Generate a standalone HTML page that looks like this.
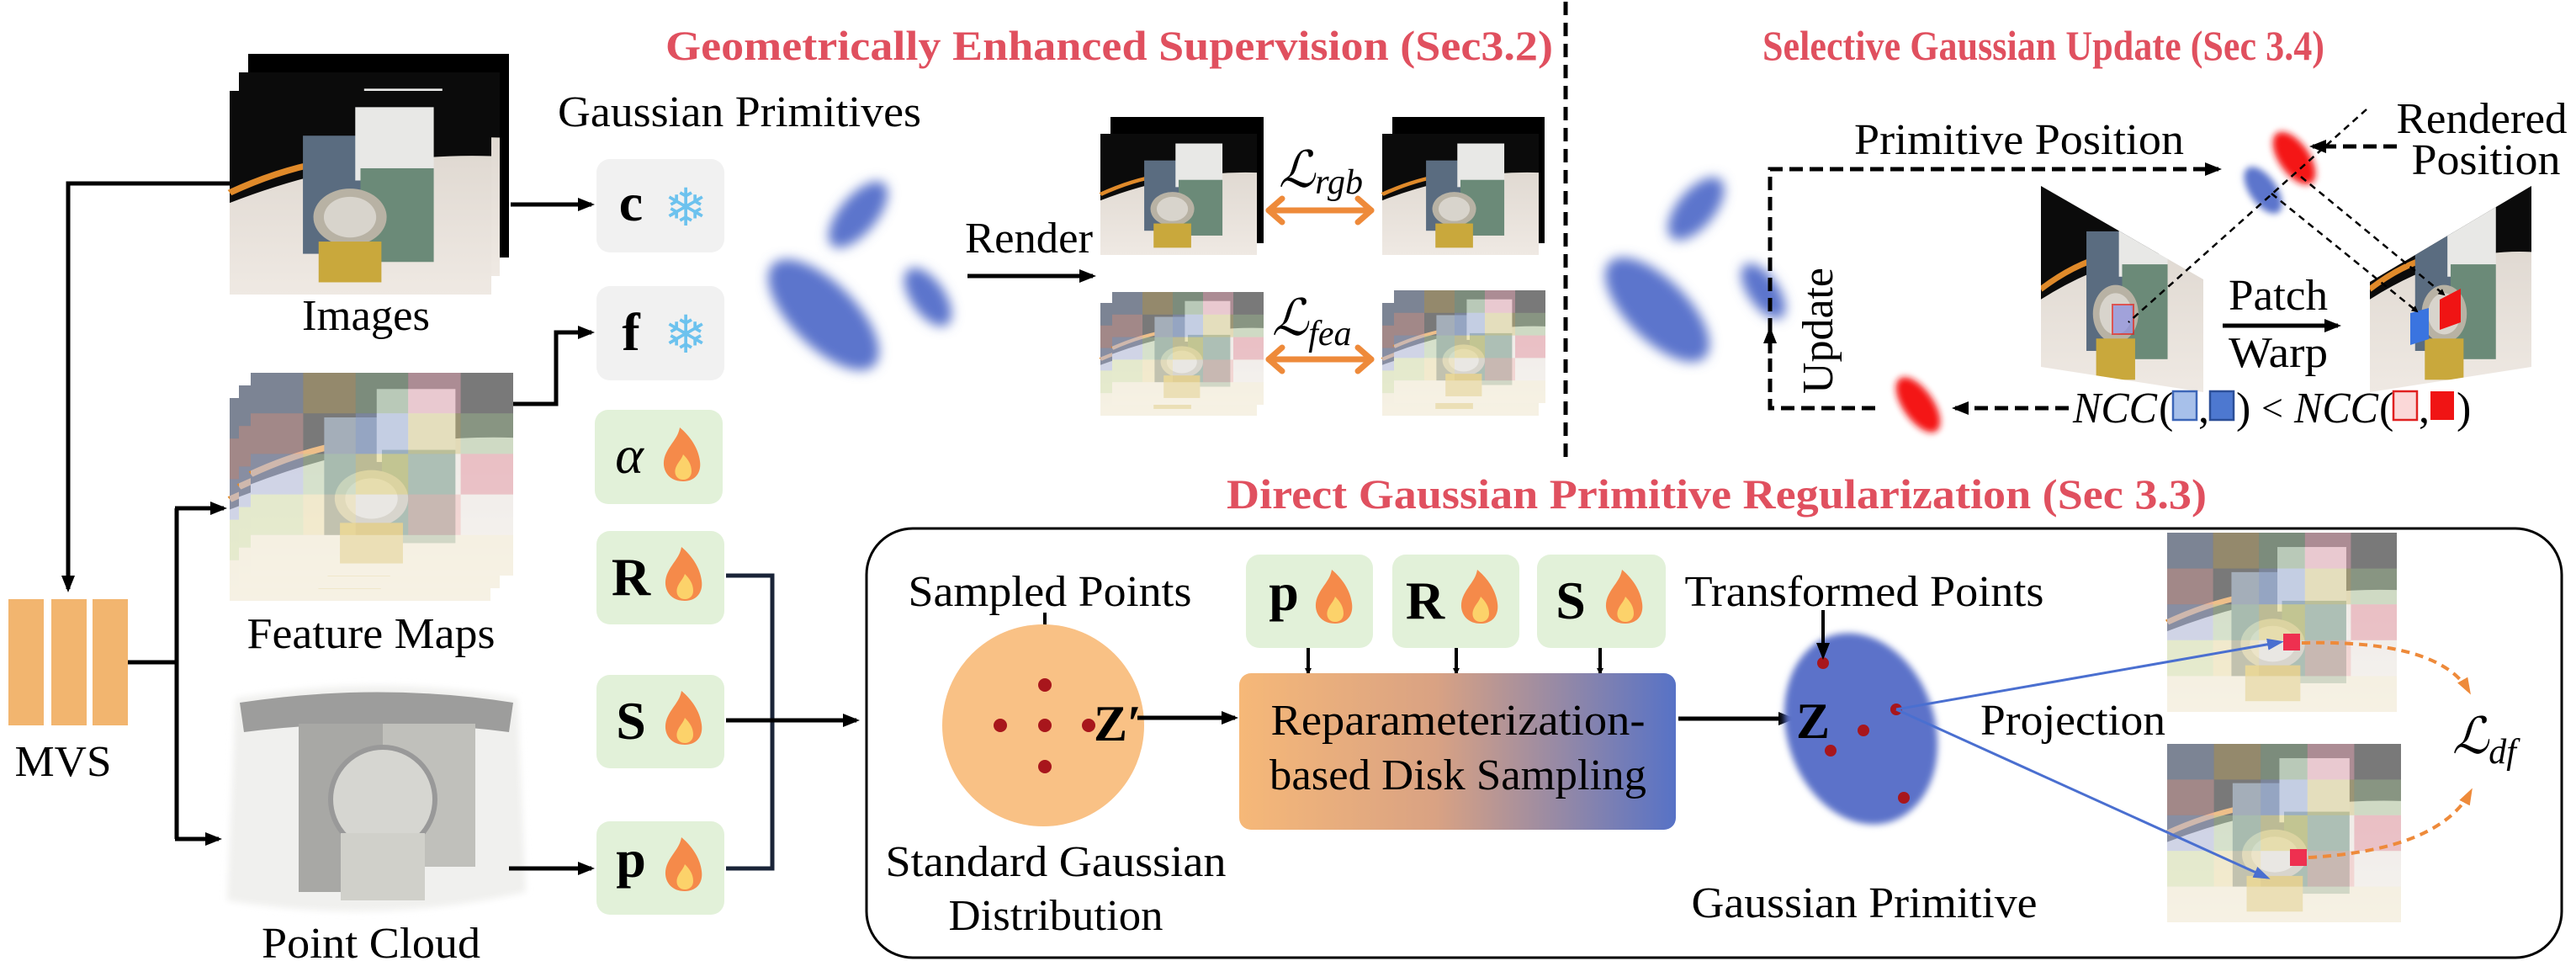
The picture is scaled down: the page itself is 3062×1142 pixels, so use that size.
<!DOCTYPE html>
<html><head><meta charset="utf-8">
<style>
html,body{margin:0;padding:0;background:#fff;}
svg{display:block;}
svg text{font-family:"Liberation Serif","DejaVu Serif","Noto Serif CJK SC",serif;}
.t{fill:#000;}
.r{fill:#e0505f;font-weight:bold;}
</style></head>
<body>
<svg width="3062" height="1142" viewBox="0 0 3062 1142" xmlns="http://www.w3.org/2000/svg">
<defs>
 <marker id="ah" markerWidth="8" markerHeight="8" refX="6" refY="4" orient="auto" markerUnits="userSpaceOnUse" viewBox="0 0 8 8"><path d="M0,0 L8,4 L0,8 z" fill="#000"/></marker>
 <marker id="ahs" markerWidth="20" markerHeight="20" refX="16" refY="10" orient="auto" markerUnits="userSpaceOnUse" viewBox="0 0 20 20"><path d="M0,2 L20,10 L0,18 z" fill="#000"/></marker>
 <marker id="ahblue" markerWidth="20" markerHeight="20" refX="16" refY="10" orient="auto" markerUnits="userSpaceOnUse" viewBox="0 0 20 20"><path d="M0,3 L20,10 L0,17 z" fill="#4a6fd0"/></marker>
 <marker id="ahor" markerWidth="20" markerHeight="20" refX="16" refY="10" orient="auto" markerUnits="userSpaceOnUse" viewBox="0 0 20 20"><path d="M0,3 L20,10 L0,17 z" fill="#ee8a3a"/></marker>
 <filter id="blur" x="-50%" y="-50%" width="200%" height="200%"><feGaussianBlur stdDeviation="7"/></filter>
 <filter id="blur2" x="-50%" y="-50%" width="200%" height="200%"><feGaussianBlur stdDeviation="4"/></filter>
 <linearGradient id="rep" x1="0" x2="1" y1="0" y2="0"><stop offset="0" stop-color="#f6b878"/><stop offset="0.45" stop-color="#d9a283"/><stop offset="1" stop-color="#5772c6"/></linearGradient>
 <linearGradient id="table" x1="0" x2="0" y1="0" y2="1"><stop offset="0" stop-color="#d9d2ca"/><stop offset="1" stop-color="#efe9e3"/></linearGradient>
 <g id="scene">
  <rect x="0" y="0" width="100" height="100" fill="url(#table)"/>
  <path d="M0,0 H100 V32 Q50,30 0,55 z" fill="#0b0b0b"/>
  <path d="M0,50 Q20,38 40,34" stroke="#e08a2a" stroke-width="3" fill="none"/>
  <rect x="28" y="22" width="24" height="58" fill="#5a6c80"/>
  <rect x="48" y="8" width="30" height="36" fill="#e8e8e6"/>
  <rect x="50" y="38" width="28" height="46" fill="#6b8a78"/>
  <ellipse cx="46" cy="62" rx="14" ry="14" fill="#b8b2a4"/>
  <ellipse cx="46" cy="62" rx="10" ry="10" fill="#d8d4cc"/>
  <rect x="34" y="74" width="24" height="20" fill="#c9a83c"/>
 </g>
 <g id="fscene">
  <use href="#scene"/>
  <rect x="0" y="0" width="100" height="100" fill="#fff" opacity="0.45"/>
  <rect x="0" y="0" width="20" height="20" fill="#8090b0" opacity="0.5"/>
  <rect x="20" y="0" width="20" height="20" fill="#b09a60" opacity="0.5"/>
  <rect x="40" y="0" width="20" height="20" fill="#80a080" opacity="0.5"/>
  <rect x="60" y="0" width="20" height="20" fill="#e0a0b0" opacity="0.5"/>
  <rect x="0" y="20" width="20" height="20" fill="#e0a0a0" opacity="0.4"/>
  <rect x="40" y="20" width="20" height="20" fill="#8098d0" opacity="0.4"/>
  <rect x="60" y="20" width="20" height="20" fill="#d0c070" opacity="0.4"/>
  <rect x="80" y="20" width="20" height="20" fill="#a0c090" opacity="0.4"/>
  <rect x="0" y="40" width="20" height="20" fill="#a0b0e0" opacity="0.4"/>
  <rect x="20" y="40" width="20" height="20" fill="#b0d0a0" opacity="0.4"/>
  <rect x="40" y="40" width="20" height="20" fill="#e0d060" opacity="0.4"/>
  <rect x="80" y="40" width="20" height="20" fill="#e08090" opacity="0.4"/>
  <rect x="0" y="60" width="20" height="20" fill="#d0e0a0" opacity="0.4"/>
  <rect x="20" y="60" width="20" height="20" fill="#f0e0a0" opacity="0.4"/>
  <rect x="60" y="60" width="20" height="20" fill="#f0b0b0" opacity="0.4"/>
  <rect x="0" y="80" width="100" height="20" fill="#f5f0d8" opacity="0.5"/>
 </g>
 <g id="flame">
  <path d="M0,24 c-20,0 -28,-18 -20,-34 c6,-12 14,-18 16,-30 c12,10 22,24 24,40 c2,14 -6,24 -20,24z" fill="#f58a4a"/>
  <path d="M0,22 c-8,0 -12,-8 -8,-16 c3,-6 6,-8 8,-14 c6,6 10,12 10,20 c0,6 -4,10 -10,10z" fill="#fcd26a"/>
 </g>
</defs>

<!-- Section titles -->
<text class="r" x="791" y="71" font-size="50" fill="#e0505f" font-weight="bold" textLength="1055" lengthAdjust="spacingAndGlyphs">Geometrically Enhanced Supervision (Sec3.2)</text>
<text class="r" x="2095" y="71" font-size="50" fill="#e0505f" font-weight="bold" textLength="668" lengthAdjust="spacingAndGlyphs">Selective Gaussian Update (Sec 3.4)</text>
<text class="r" x="1458" y="604" font-size="50" fill="#e0505f" font-weight="bold" textLength="1165" lengthAdjust="spacingAndGlyphs">Direct Gaussian Primitive Regularization (Sec 3.3)</text>
<line x1="1861" y1="2" x2="1861" y2="545" stroke="#000" stroke-width="5" stroke-dasharray="16,9"/>

<!-- Inputs -->
<g>
 <rect x="295" y="64" width="310" height="242" fill="#000"/>
 <use href="#scene" transform="translate(284,86) scale(3.1,2.42)"/>
 <use href="#scene" transform="translate(273,108) scale(3.11,2.42)"/>
</g>
<text class="t" x="435" y="392" font-size="52" text-anchor="middle" textLength="152" lengthAdjust="spacingAndGlyphs">Images</text>

<g>
 <use href="#fscene" transform="translate(273,473) scale(3.1,2.41)"/>
 <use href="#fscene" transform="translate(284,458) scale(3.1,2.41)"/>
 <use href="#fscene" transform="translate(298,443) scale(3.12,2.41)"/>
</g>
<text class="t" x="441" y="770" font-size="52" text-anchor="middle" textLength="295" lengthAdjust="spacingAndGlyphs">Feature Maps</text>

<g>
 <path d="M280,830 Q450,800 615,830 L625,1060 Q450,1100 270,1070 z" fill="#f0f0ee" filter="url(#blur2)"/>
 <path d="M285,835 Q450,810 610,835 L605,870 Q450,850 290,870 z" fill="#666" opacity="0.6"/>
 <rect x="355" y="860" width="100" height="200" fill="#a8a8a5"/>
 <rect x="455" y="860" width="110" height="170" fill="#c0c0bb"/>
 <ellipse cx="455" cy="950" rx="62" ry="62" fill="#d6d6d1" stroke="#999" stroke-width="6"/>
 <rect x="405" y="990" width="100" height="80" fill="#d0d0ca"/>
</g>
<text class="t" x="441" y="1138" font-size="52" text-anchor="middle" textLength="260" lengthAdjust="spacingAndGlyphs">Point Cloud</text>

<g>
 <rect x="10" y="712" width="42" height="150" fill="#f2b56f"/>
 <rect x="61" y="712" width="42" height="150" fill="#f2b56f"/>
 <rect x="110" y="712" width="42" height="150" fill="#f2b56f"/>
</g>
<text class="t" x="75" y="922" font-size="52" text-anchor="middle" textLength="115" lengthAdjust="spacingAndGlyphs">MVS</text>

<g fill="none" stroke="#000" stroke-width="5">
 <polyline points="273,218 81,218 81,700" marker-end="url(#ahs)"/>
 <polyline points="152,787 210,787"/>
 <polyline points="210,604 210,997"/>
 <line x1="208" y1="604" x2="266" y2="604" marker-end="url(#ahs)"/>
 <line x1="208" y1="997" x2="260" y2="997" marker-end="url(#ahs)"/>
 <line x1="607" y1="243" x2="703" y2="243" marker-end="url(#ahs)"/>
 <polyline points="610,480 661,480 661,395 703,395" marker-end="url(#ahs)"/>
 <line x1="605" y1="1032" x2="703" y2="1032" marker-end="url(#ahs)"/>
</g>

<!-- Gaussian primitives params -->
<text class="t" x="663" y="150" font-size="52" textLength="432" lengthAdjust="spacingAndGlyphs">Gaussian Primitives</text>
<g><rect x="709" y="189" width="152" height="111" rx="16" fill="#f1f1f1"/><text class="t" x="750" y="262" font-size="64" font-weight="bold" text-anchor="middle">c</text><text x="815" y="268" font-size="62" fill="#6cc2ee" text-anchor="middle" style="font-family:'DejaVu Sans',sans-serif">❄</text></g>
<g><rect x="709" y="340" width="152" height="112" rx="16" fill="#f1f1f1"/><text class="t" x="750" y="416" font-size="64" font-weight="bold" text-anchor="middle">f</text><text x="815" y="419" font-size="62" fill="#6cc2ee" text-anchor="middle" style="font-family:'DejaVu Sans',sans-serif">❄</text></g>
<g><rect x="707" y="487" width="152" height="112" rx="16" fill="#e2f1d9"/><text class="t" x="748" y="562" font-size="64" font-style="italic" text-anchor="middle">α</text><use href="#flame" transform="translate(812,548)"/></g>
<g><rect x="709" y="631" width="152" height="111" rx="16" fill="#e2f1d9"/><text class="t" x="750" y="707" font-size="64" font-weight="bold" text-anchor="middle">R</text><use href="#flame" transform="translate(814,690)"/></g>
<g><rect x="709" y="802" width="152" height="111" rx="16" fill="#e2f1d9"/><text class="t" x="750" y="878" font-size="64" font-weight="bold" text-anchor="middle">S</text><use href="#flame" transform="translate(814,861)"/></g>
<g><rect x="709" y="976" width="152" height="111" rx="16" fill="#e2f1d9"/><text class="t" x="750" y="1042" font-size="64" font-weight="bold" text-anchor="middle">p</text><use href="#flame" transform="translate(814,1035)"/></g>
<g fill="none" stroke="#1a2438" stroke-width="5">
 <polyline points="863,684 918,684 918,1032 863,1032"/>
 <line x1="863" y1="856" x2="1018" y2="856" stroke="#000" marker-end="url(#ahs)"/>
</g>

<!-- Supervision -->
<g fill="#5b74cc" filter="url(#blur)">
 <ellipse cx="1020" cy="255" rx="22" ry="48" transform="rotate(40 1020 255)"/>
 <ellipse cx="979" cy="374" rx="38" ry="85" transform="rotate(-45 979 374)"/>
 <ellipse cx="1103" cy="353" rx="20" ry="40" transform="rotate(-35 1103 353)"/>
</g>
<text class="t" x="1223" y="300" font-size="52" text-anchor="middle" textLength="152" lengthAdjust="spacingAndGlyphs">Render</text>
<line x1="1150" y1="328" x2="1299" y2="328" stroke="#000" stroke-width="5" marker-end="url(#ahs)"/>
<g><rect x="1320" y="139" width="182" height="150" fill="#000"/><use href="#scene" transform="translate(1308,159) scale(1.86,1.44)"/></g>
<g><rect x="1655" y="139" width="181" height="150" fill="#000"/><use href="#scene" transform="translate(1643,159) scale(1.86,1.44)"/></g>
<g><use href="#fscene" transform="translate(1308,360) scale(1.86,1.34)"/><use href="#fscene" transform="translate(1322,347) scale(1.8,1.34)"/></g>
<g><use href="#fscene" transform="translate(1643,360) scale(1.86,1.34)"/><use href="#fscene" transform="translate(1657,345) scale(1.8,1.34)"/></g>
<text x="1520" y="222" font-size="60" font-style="italic">ℒ<tspan font-size="42" dy="8">rgb</tspan></text>
<text x="1512" y="398" font-size="60" font-style="italic">ℒ<tspan font-size="42" dy="12">fea</tspan></text>
<g fill="none" stroke="#ee8a3a" stroke-width="7" stroke-linecap="round" stroke-linejoin="round">
 <line x1="1508" y1="250" x2="1630" y2="250"/>
 <polyline points="1524,236 1508,250 1524,264"/>
 <polyline points="1614,236 1630,250 1614,264"/>
</g>
<g fill="none" stroke="#ee8a3a" stroke-width="7" stroke-linecap="round" stroke-linejoin="round">
 <line x1="1508" y1="427" x2="1630" y2="427"/>
 <polyline points="1524,413 1508,427 1524,441"/>
 <polyline points="1614,413 1630,427 1614,441"/>
</g>

<!-- Selective update -->
<g fill="#5b74cc" filter="url(#blur)">
 <ellipse cx="2016" cy="248" rx="22" ry="45" transform="rotate(40 2016 248)"/>
 <ellipse cx="1970" cy="368" rx="36" ry="80" transform="rotate(-45 1970 368)"/>
 <ellipse cx="2096" cy="346" rx="18" ry="38" transform="rotate(-35 2096 346)"/>
</g>
<ellipse cx="2280" cy="481" rx="18" ry="38" transform="rotate(-35 2280 481)" fill="#f41616" filter="url(#blur2)"/>
<ellipse cx="2690" cy="226" rx="16" ry="32" transform="rotate(-35 2690 226)" fill="#5b74cc" filter="url(#blur2)"/>
<ellipse cx="2727" cy="188" rx="18" ry="36" transform="rotate(-35 2727 188)" fill="#f41616" filter="url(#blur2)"/>
<g fill="none" stroke="#000" stroke-width="5" stroke-dasharray="16,8">
 <polyline points="2229,485 2104,485 2104,201 2637,201" marker-end="url(#ahs)"/>
 <line x1="2104" y1="420" x2="2104" y2="392" stroke-dasharray="none" marker-end="url(#ahs)"/>
 <line x1="2459" y1="485" x2="2324" y2="485" marker-end="url(#ahs)"/>
 <line x1="2849" y1="174" x2="2749" y2="174" marker-end="url(#ahs)"/>
</g>
<text class="t" x="2400" y="183" font-size="52" text-anchor="middle" textLength="392" lengthAdjust="spacingAndGlyphs">Primitive Position</text>
<text class="t" x="2950" y="158" font-size="52" text-anchor="middle" textLength="203" lengthAdjust="spacingAndGlyphs">Rendered</text>
<text class="t" x="2955" y="207" font-size="52" text-anchor="middle" textLength="177" lengthAdjust="spacingAndGlyphs">Position</text>
<text class="t" x="0" y="0" font-size="52" textLength="150" lengthAdjust="spacingAndGlyphs" transform="translate(2178,468) rotate(-90)">Update</text>
<g>
 <clipPath id="cl1"><polygon points="2426,221 2619,332 2619,466 2426,436"/></clipPath>
 <g clip-path="url(#cl1)"><use href="#scene" transform="translate(2426,221) scale(1.93,2.45)"/></g>
 <rect x="2511" y="362" width="25" height="35" fill="#8a8ee0" opacity="0.7" stroke="#e02020" stroke-width="2"/>
</g>
<g>
 <clipPath id="cl2"><polygon points="2817,335 3009,221 3009,436 2817,466"/></clipPath>
 <g clip-path="url(#cl2)"><use href="#scene" transform="translate(2817,221) scale(1.92,2.45)"/></g>
 <polygon points="2865,372 2887,366 2887,403 2865,410" fill="#3a74e0"/>
 <polygon points="2900,356 2925,343 2925,383 2900,392" fill="#f01414"/>
</g>
<g fill="none" stroke="#000" stroke-width="2.5" stroke-dasharray="8,6">
 <line x1="2813" y1="130" x2="2530" y2="383"/>
 <line x1="2700" y1="230" x2="2873" y2="370" marker-end="url(#ah)"/>
 <line x1="2735" y1="210" x2="2905" y2="350" marker-end="url(#ah)"/>
</g>
<text class="t" x="2708" y="368" font-size="52" text-anchor="middle" textLength="118" lengthAdjust="spacingAndGlyphs">Patch</text>
<text class="t" x="2708" y="436" font-size="52" text-anchor="middle" textLength="118" lengthAdjust="spacingAndGlyphs">Warp</text>
<line x1="2642" y1="387" x2="2779" y2="387" stroke="#000" stroke-width="5" marker-end="url(#ahs)"/>
<g>
 <text class="t" x="2464" y="502" font-size="52" font-style="italic" textLength="100" lengthAdjust="spacingAndGlyphs">NCC</text>
 <text class="t" x="2566" y="502" font-size="52">(</text>
 <rect x="2583" y="465" width="28" height="34" fill="#a7c0ea" stroke="#3c66b8" stroke-width="2.5"/>
 <text class="t" x="2613" y="502" font-size="52">,</text>
 <rect x="2627" y="465" width="28" height="34" fill="#4d78d0" stroke="#2c4f98" stroke-width="2.5"/>
 <text class="t" x="2658" y="502" font-size="52">)</text>
 <text class="t" x="2688" y="500" font-size="46">&lt;</text>
 <text class="t" x="2727" y="502" font-size="52" font-style="italic" textLength="100" lengthAdjust="spacingAndGlyphs">NCC</text>
 <text class="t" x="2828" y="502" font-size="52">(</text>
 <rect x="2845" y="465" width="28" height="34" fill="#fbd8d8" stroke="#e02020" stroke-width="2.5"/>
 <text class="t" x="2875" y="502" font-size="52">,</text>
 <rect x="2889" y="465" width="28" height="34" fill="#f01414"/>
 <text class="t" x="2920" y="502" font-size="52">)</text>
</g>

<!-- Regularization box -->
<rect x="1030" y="628" width="2015" height="510" rx="55" fill="none" stroke="#000" stroke-width="3"/>
<text class="t" x="1248" y="720" font-size="52" text-anchor="middle" textLength="337" lengthAdjust="spacingAndGlyphs">Sampled Points</text>
<line x1="1242" y1="728" x2="1242" y2="790" stroke="#000" stroke-width="4" marker-end="url(#ahs)"/>
<circle cx="1240" cy="862" r="120" fill="#f9c185"/>
<g fill="#a8161c">
 <circle cx="1242" cy="814" r="8"/><circle cx="1189" cy="862" r="8"/><circle cx="1242" cy="862" r="8"/><circle cx="1294" cy="862" r="8"/><circle cx="1242" cy="911" r="8"/>
</g>
<text class="t" x="1300" y="880" font-size="60" font-weight="bold">Z′</text>
<line x1="1352" y1="853" x2="1468" y2="853" stroke="#000" stroke-width="5" marker-end="url(#ahs)"/>
<text class="t" x="1255" y="1041" font-size="52" text-anchor="middle" textLength="405" lengthAdjust="spacingAndGlyphs">Standard Gaussian</text>
<text class="t" x="1255" y="1105" font-size="52" text-anchor="middle" textLength="255" lengthAdjust="spacingAndGlyphs">Distribution</text>

<g><rect x="1481" y="659" width="151" height="111" rx="16" fill="#e2f1d9"/><text class="t" x="1526" y="725" font-size="64" font-weight="bold" text-anchor="middle">p</text><use href="#flame" transform="translate(1587,717)"/></g>
<g><rect x="1655" y="659" width="151" height="111" rx="16" fill="#e2f1d9"/><text class="t" x="1694" y="735" font-size="64" font-weight="bold" text-anchor="middle">R</text><use href="#flame" transform="translate(1760,717)"/></g>
<g><rect x="1827" y="659" width="153" height="111" rx="16" fill="#e2f1d9"/><text class="t" x="1867" y="735" font-size="64" font-weight="bold" text-anchor="middle">S</text><use href="#flame" transform="translate(1932,717)"/></g>
<g stroke="#000" stroke-width="4">
 <line x1="1555" y1="770" x2="1555" y2="800" marker-end="url(#ah)"/>
 <line x1="1731" y1="770" x2="1731" y2="800" marker-end="url(#ah)"/>
 <line x1="1902" y1="770" x2="1902" y2="800" marker-end="url(#ah)"/>
</g>
<rect x="1473" y="800" width="519" height="186" rx="14" fill="url(#rep)"/>
<text class="t" x="1733" y="873" font-size="52" text-anchor="middle" textLength="445" lengthAdjust="spacingAndGlyphs">Reparameterization-</text>
<text class="t" x="1733" y="938" font-size="52" text-anchor="middle" textLength="448" lengthAdjust="spacingAndGlyphs">based Disk Sampling</text>
<line x1="1995" y1="854" x2="2130" y2="854" stroke="#000" stroke-width="5" marker-end="url(#ahs)"/>

<ellipse cx="2212" cy="866" rx="88" ry="116" transform="rotate(-18 2212 866)" fill="#5b72c9" filter="url(#blur2)"/>
<text class="t" x="2135" y="877" font-size="60" font-weight="bold">Z</text>
<g fill="#a8161c">
 <circle cx="2167" cy="788" r="7"/><circle cx="2254" cy="843" r="7"/><circle cx="2215" cy="868" r="7"/><circle cx="2176" cy="892" r="7"/><circle cx="2263" cy="948" r="7"/>
</g>
<text class="t" x="2216" y="720" font-size="52" text-anchor="middle" textLength="427" lengthAdjust="spacingAndGlyphs">Transformed Points</text>
<line x1="2167" y1="725" x2="2167" y2="780" stroke="#000" stroke-width="4" marker-end="url(#ahs)"/>
<text class="t" x="2216" y="1090" font-size="52" text-anchor="middle" textLength="411" lengthAdjust="spacingAndGlyphs">Gaussian Primitive</text>
<text class="t" x="2464" y="873" font-size="52" text-anchor="middle" textLength="220" lengthAdjust="spacingAndGlyphs">Projection</text>
<g><use href="#fscene" transform="translate(2576,633) scale(2.73,2.13)"/></g>
<g><use href="#fscene" transform="translate(2576,884) scale(2.78,2.12)"/></g>
<g stroke="#4a6fd0" stroke-width="3">
 <line x1="2254" y1="843" x2="2711" y2="763" marker-end="url(#ahblue)"/>
 <line x1="2254" y1="843" x2="2695" y2="1043" marker-end="url(#ahblue)"/>
</g>
<rect x="2714" y="753" width="20" height="20" fill="#ee3050"/>
<rect x="2722" y="1009" width="20" height="20" fill="#ee3050"/>
<g fill="none" stroke="#ee8a3a" stroke-width="4" stroke-dasharray="10,7">
 <path d="M2736,764 Q2900,760 2935,822" marker-end="url(#ahor)"/>
 <path d="M2744,1019 Q2900,1010 2937,940" marker-end="url(#ahor)"/>
</g>
<text x="2915" y="895" font-size="60" font-style="italic">ℒ<tspan font-size="42" dy="12">df</tspan></text>
</svg>
</body></html>
